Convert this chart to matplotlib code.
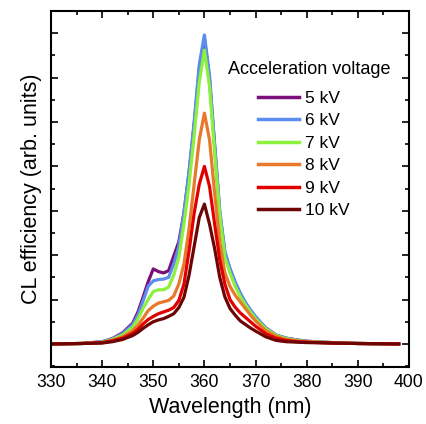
import matplotlib
matplotlib.use("Agg")
import matplotlib.pyplot as plt
from matplotlib.ticker import MultipleLocator, NullFormatter

plt.rcParams["font.family"] = ["Liberation Sans", "DejaVu Sans"]

# ── Data (arb. units, baseline = 0) ──
wavelength = [330, 336, 340, 342, 344, 346, 347, 348, 349, 350, 351, 352, 353,
              354, 355, 356, 357, 358, 359, 360, 361, 362, 363, 364, 365, 366,
              367, 368, 369, 370, 372, 374, 376, 378, 380, 385, 390, 398]

kv5 = [0.0, 0.01, 0.05, 0.12, 0.25, 0.47, 0.72, 1.05, 1.4, 1.69, 1.63, 1.6, 1.65,
       1.98, 2.3, 2.95, 3.85, 4.95, 6.2, 6.88, 5.95, 4.45, 2.95, 2.05, 1.68, 1.38,
       1.13, 0.92, 0.75, 0.6, 0.36, 0.2, 0.13, 0.09, 0.06, 0.03, 0.01, 0.0]
kv6 = [0.0, 0.01, 0.05, 0.11, 0.23, 0.44, 0.65, 0.97, 1.3, 1.42, 1.45, 1.46, 1.5,
       1.8, 2.2, 2.95, 3.9, 5.0, 6.3, 6.96, 6.05, 4.5, 3.0, 2.08, 1.7, 1.4,
       1.15, 0.94, 0.77, 0.62, 0.36, 0.2, 0.13, 0.09, 0.06, 0.03, 0.01, 0.0]
kv7 = [0.0, 0.01, 0.04, 0.1, 0.2, 0.38, 0.56, 0.8, 1.0, 1.18, 1.22, 1.22, 1.28,
       1.55, 1.95, 2.7, 3.6, 4.7, 5.9, 6.62, 5.8, 4.3, 2.9, 1.95, 1.6, 1.3,
       1.07, 0.88, 0.72, 0.57, 0.34, 0.19, 0.12, 0.08, 0.05, 0.03, 0.01, 0.0]
kv8 = [0.0, 0.01, 0.03, 0.08, 0.16, 0.3, 0.42, 0.58, 0.75, 0.85, 0.92, 0.95, 0.98,
       1.08, 1.35, 1.8, 2.6, 3.6, 4.6, 5.2, 4.6, 3.4, 2.3, 1.6, 1.3, 1.1,
       0.95, 0.8, 0.65, 0.52, 0.3, 0.17, 0.1, 0.07, 0.05, 0.02, 0.01, 0.0]
kv9 = [0.0, 0.01, 0.03, 0.07, 0.13, 0.24, 0.33, 0.45, 0.55, 0.62, 0.68, 0.72, 0.76,
       0.82, 0.98, 1.35, 2.1, 2.95, 3.6, 4.0, 3.55, 2.7, 1.9, 1.35, 1.0, 0.83,
       0.7, 0.6, 0.5, 0.4, 0.23, 0.13, 0.08, 0.05, 0.04, 0.02, 0.01, 0.0]
kv10 = [0.0, 0.01, 0.02, 0.05, 0.1, 0.19, 0.26, 0.35, 0.43, 0.5, 0.54, 0.57, 0.62,
        0.68, 0.82, 1.05, 1.55, 2.2, 2.85, 3.15, 2.7, 2.15, 1.5, 1.06, 0.8, 0.65,
        0.52, 0.44, 0.36, 0.29, 0.16, 0.08, 0.05, 0.04, 0.03, 0.02, 0.01, 0.0]

labels = ["5 kV", "6 kV", "7 kV", "8 kV", "9 kV", "10 kV"]
series = [kv5, kv6, kv7, kv8, kv9, kv10]
colors = ["#7a0f7a", "#5b8cf0", "#8cf03c", "#e8782a", "#e00000", "#6e0505"]


def main():
    fig = plt.figure(figsize=(4.26, 4.24), dpi=100)
    ax = fig.add_axes([0.1197, 0.1344, 0.8403, 0.8396])

    for vals, label, color in zip(series, labels, colors):
        ax.plot(wavelength, vals, color=color, linewidth=2.3, label=label)

    ax.set_xlim(330, 400)
    ax.set_ylim(-0.52, 7.5)
    ax.xaxis.set_major_locator(MultipleLocator(10))
    ax.xaxis.set_minor_locator(MultipleLocator(5))
    ax.yaxis.set_major_locator(MultipleLocator(1))
    ax.yaxis.set_minor_locator(MultipleLocator(0.5))
    ax.yaxis.set_major_formatter(NullFormatter())

    ax.tick_params(which="both", direction="in", top=True, right=True, width=1.2)
    ax.tick_params(which="major", length=5, labelsize=12.7, pad=5)
    ax.tick_params(which="minor", length=3)
    for sp in ax.spines.values():
        sp.set_linewidth(1.5)

    ax.set_xlabel("Wavelength (nm)", fontsize=15.5, labelpad=4)
    ax.set_ylabel("CL efficiency (arb. units)", fontsize=15.5)
    ax.yaxis.set_label_coords(-0.025, 0.5)

    # legend title placed on its own, entries below it
    fig.text(0.725, 0.826, "Acceleration voltage", fontsize=13,
             ha="center", va="baseline")
    leg = fig.legend(*ax.get_legend_handles_labels(), frameon=False, fontsize=12.5,
                     loc="upper left", bbox_to_anchor=(0.6056, 0.786),
                     borderpad=0, borderaxespad=0,
                     handlelength=2.35, handletextpad=0.35, labelspacing=0.42)
    for line in leg.get_lines():
        line.set_linewidth(2.5)

    fig.savefig("out.png", dpi=100)
    plt.close(fig)


if __name__ == "__main__":
    main()
